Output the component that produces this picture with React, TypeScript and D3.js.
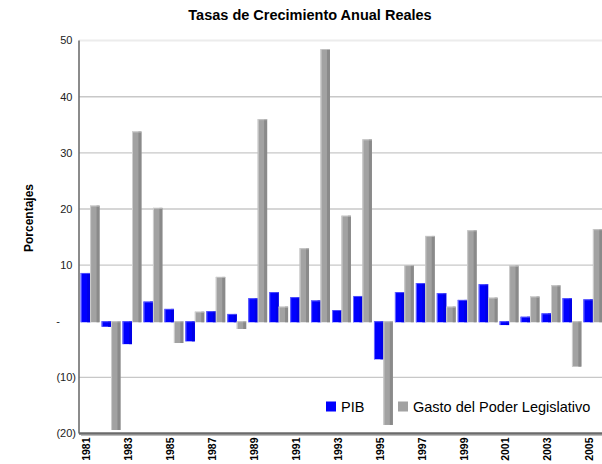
import React from "react";
import * as d3 from "d3";

const years: string[] = [
  "1981","1982","1983","1984","1985","1986","1987","1988","1989","1990",
  "1991","1992","1993","1994","1995","1996","1997","1998","1999","2000",
  "2001","2002","2003","2004","2005",
];
const pib: number[] = [
  8.6, -0.8, -3.9, 3.5, 2.2, -3.4, 1.8, 1.3, 4.1, 5.2,
  4.3, 3.7, 2.0, 4.5, -6.6, 5.2, 6.8, 5.0, 3.8, 6.6,
  -0.5, 0.8, 1.4, 4.1, 3.9,
];
const gasto: number[] = [
  20.6, -19.2, 33.8, 20.2, -3.7, 1.7, 7.9, -1.2, 36.0, 2.6,
  13.0, 48.5, 18.8, 32.4, -18.3, 10.0, 15.2, 2.6, 16.2, 4.2,
  9.9, 4.4, 6.4, -7.9, 16.4,
];
const yTicks: number[] = [-20, -10, 0, 10, 20, 30, 40, 50];
const labelYears: string[] = years.filter((_, i) => i % 2 === 0);
const seriesNames: string[] = ["PIB", "Gasto del Poder Legislativo"];

const W = 602;
const H = 464;
const FONT = "'Liberation Sans', Arial, sans-serif";

const x = d3.scaleBand<string>().domain(years).range([79, 604]).paddingInner(0.1).paddingOuter(0.08);
const xs = d3.scaleBand<string>().domain(seriesNames).range([0, x.bandwidth()]).padding(0);
const y = d3.scaleLinear().domain([-20, 50]).range([433.5, 40.6]);

const fmt = (v: number) => (v === 0 ? "-" : v < 0 ? `(${Math.abs(v)})` : `${v}`);

type Style = { front: string; side: string; hi: string };
const styles: Style[] = [
  { front: "#0000ff", side: "#0000e6", hi: "#6a6aff" },
  { front: "#a2a2a2", side: "#8a8a8a", hi: "#cfcfcf" },
];

function Bar({ xPos, w, v, st }: { xPos: number; w: number; v: number; st: Style }) {
  const y0 = y(0);
  const yv = y(v);
  const top = Math.min(y0, yv);
  const h = Math.max(1.5, Math.abs(yv - y0)) + 1;
  const sideW = Math.round(w * 0.3);
  return (
    <g>
      <rect x={xPos} y={top} width={w} height={h} fill={st.front} />
      <rect x={xPos + w - sideW} y={top} width={sideW} height={h} fill={st.side} />
      <rect x={xPos} y={top} width={1} height={h} fill={st.hi} />
      <rect x={xPos} y={top} width={w} height={1} fill={st.hi} opacity={0.7} />
    </g>
  );
}

export default function App() {
  const left = 79;
  const right = 602;
  return (
    <svg
      width={W}
      height={H}
      viewBox={`0 0 ${W} ${H}`}
      style={{ position: "absolute", left: 0, top: 0, background: "#fff" }}
      fontFamily={FONT}
    >
      <rect x={0} y={0} width={W} height={H} fill="#fff" />
      {/* title */}
      <text x={310} y={20} textAnchor="middle" fontSize={14.5} fontWeight="bold" fill="#000">
        Tasas de Crecimiento Anual Reales
      </text>
      {/* top border */}
      <line x1={left} x2={right} y1={y(50)} y2={y(50)} stroke="#ececec" strokeWidth={2} />
      {/* gridlines */}
      {yTicks.filter((t) => t !== 50 && t !== -20 && t !== 0).map((t) => (
        <line key={t} x1={left} x2={right} y1={y(t)} y2={y(t)} stroke="#c8c8c8" strokeWidth={1.3} />
      ))}
      {/* y tick labels */}
      {yTicks.map((t) => (
        <text
          key={t}
          x={t === 0 ? 60 : t < 0 ? 76 : 72.5}
          y={y(t)}
          dy="0.35em"
          textAnchor="end"
          fontSize={11}
          fill="#222"
        >
          {fmt(t)}
        </text>
      ))}
      {/* y axis title */}
      <text
        transform={`translate(28.5,218) rotate(-90)`}
        textAnchor="middle"
        dominantBaseline="central"
        fontSize={12}
        fontWeight="bold"
        fill="#000"
      >
        Porcentajes
      </text>
      {/* bars */}
      {years.map((yr, i) => {
        const bx = x(yr)!;
        return (
          <g key={yr}>
            <Bar xPos={bx + xs(seriesNames[0])!} w={xs.bandwidth()} v={pib[i]} st={styles[0]} />
            <Bar xPos={bx + xs(seriesNames[1])!} w={xs.bandwidth()} v={gasto[i]} st={styles[1]} />
          </g>
        );
      })}
      {/* y axis line */}
      <line x1={left} x2={left} y1={y(50)} y2={y(-20)} stroke="#6e6e6e" strokeWidth={1.6} />
      {/* x axis line */}
      <line x1={left} x2={right + 2} y1={y(-20)} y2={y(-20)} stroke="#6a6a6a" strokeWidth={2.6} />
      <line x1={left + 2} x2={right + 2} y1={y(-20) + 2} y2={y(-20) + 2} stroke="#bdbdbd" strokeWidth={1} />
      {/* x labels */}
      {labelYears.map((yr) => (
        <text
          key={yr}
          transform={`translate(${x(yr)! + 5.8},437.5) rotate(-90)`}
          textAnchor="end"
          dominantBaseline="central"
          fontSize={10.5}
          fontWeight="bold"
          fill="#000"
        >
          {yr}
        </text>
      ))}
      {/* legend */}
      <rect x={326} y={401.5} width={10} height={10} fill={styles[0].front} />
      <text x={341} y={411.5} fontSize={14.5} fill="#000">{seriesNames[0]}</text>
      <rect x={398} y={401.5} width={10} height={10} fill={styles[1].front} />
      <text x={413} y={411.5} fontSize={14.5} fill="#000">{seriesNames[1]}</text>
    </svg>
  );
}
